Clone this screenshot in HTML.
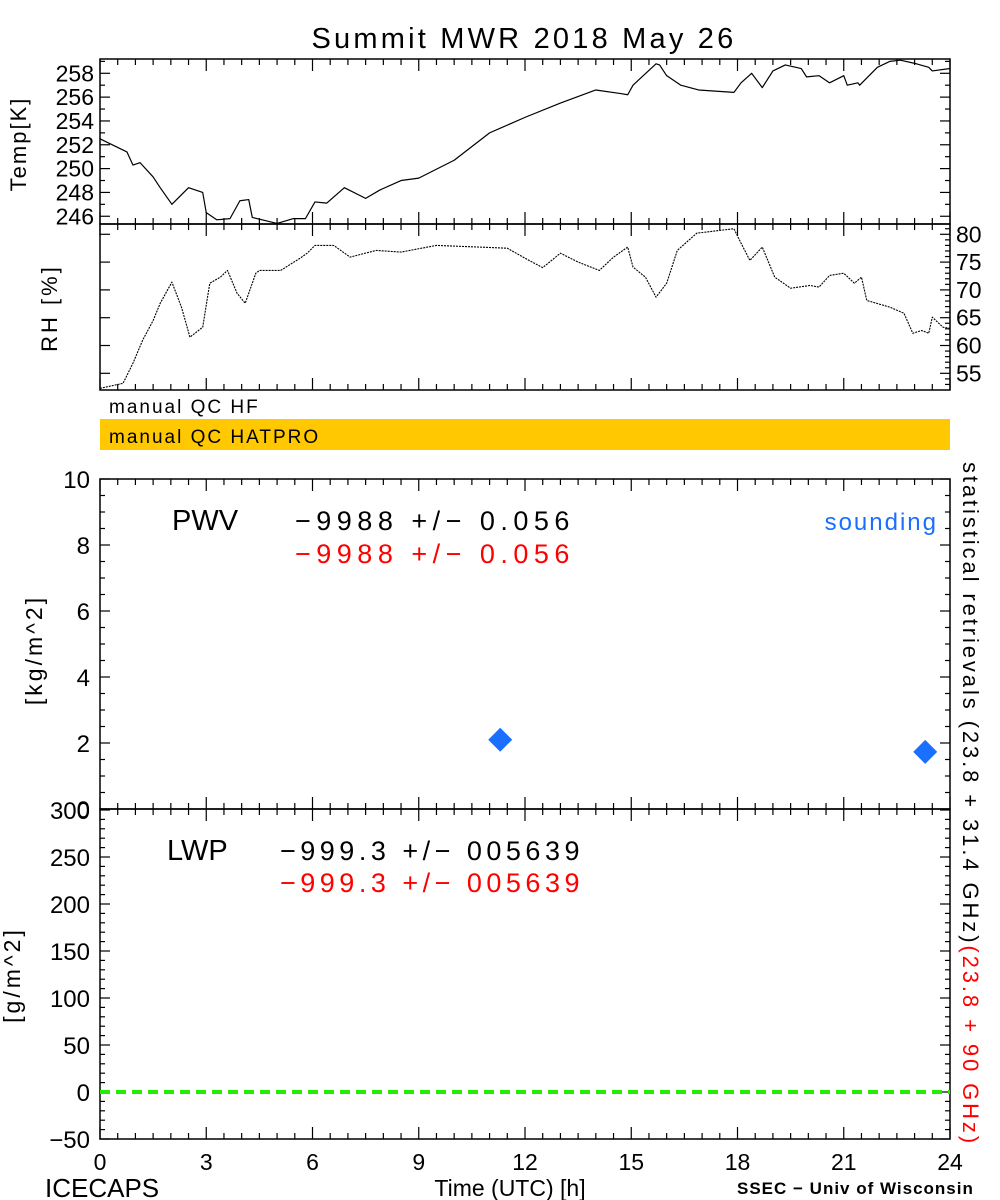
<!DOCTYPE html>
<html><head><meta charset="utf-8"><style>
body{margin:0;background:#fff}
svg{display:block;font-family:"Liberation Sans",sans-serif}
</style></head><body>
<svg id="c" width="1000" height="1200" viewBox="0 0 1000 1200">
<rect width="1000" height="1200" fill="#fff"/>
<text x="524" y="48" font-size="29" text-anchor="middle" letter-spacing="3.2">Summit MWR 2018 May 26</text>
<g id="g"></g>
</svg>
<script>
const tempHours=[0,0.76,0.93,1.13,1.5,1.7,2.03,2.5,2.9,3.0,3.3,3.67,3.95,4.2,4.3,5,5.45,5.8,6.07,6.4,6.9,7.5,7.9,8.5,9,10,11,12,13,14,14.7,14.9,15.05,15.7,15.8,16.0,16.4,16.9,17.9,18.1,18.4,18.7,19.0,19.35,19.8,19.95,20.3,20.6,21.0,21.1,21.4,21.45,21.95,22.3,22.6,23.05,23.4,23.5,24];
const tempValues=[252.5,251.4,250.3,250.5,249.3,248.4,247.0,248.4,248.0,246.3,245.7,245.8,247.3,247.4,245.9,245.4,245.8,245.8,247.2,247.1,248.4,247.5,248.2,249.0,249.2,250.7,253.0,254.3,255.5,256.6,256.3,256.2,257.0,258.8,258.7,257.8,257.0,256.6,256.4,257.2,258.0,256.8,258.2,258.7,258.4,257.7,257.8,257.2,257.8,257.0,257.2,257.0,258.5,259.0,259.1,258.8,258.5,258.2,258.4];
const rhHours=[0,0.65,0.93,1.2,1.5,1.7,2.03,2.3,2.54,2.9,3.1,3.4,3.6,3.87,4.1,4.4,4.5,5.1,5.65,5.85,6.07,6.6,7.06,7.8,8.5,9.5,11.5,12,12.5,13,13.5,14.1,14.5,14.9,15.05,15.4,15.7,16.0,16.3,16.85,17.5,17.9,18.1,18.35,18.7,19.05,19.5,20.05,20.3,20.6,21.0,21.3,21.5,21.65,22.3,22.7,22.95,23.2,23.4,23.5,23.8,24];
const rhValues=[52.3,53.2,56.8,60.9,64.5,67.6,71.4,66.9,61.5,63.3,71.2,72.3,73.5,69.4,67.6,73,73.5,73.5,75.7,76.6,78,78,75.9,77.1,76.8,78,77.5,75.7,74,76.6,75,73.5,75.9,77.7,74.1,72.3,68.7,71.2,77.1,80.2,80.7,81,78.4,75.3,77.7,72.3,70.3,70.8,70.5,72.6,73,71.2,72.3,68.1,66.9,65.8,62.2,62.7,62.2,65.1,63.3,63.1];
const soundingHours=[11.3,23.3];
const soundingPWV=[2.1,1.73];
const lwpZeroHours=[0,24];
const lwpZeroValues=[0,0];
const xTicks=[0,3,6,9,12,15,18,21,24];
const tempTicks=[246,248,250,252,254,256,258];
const rhTicks=[55,60,65,70,75,80];
const pwvTicks=[0,2,4,6,8,10];
const lwpTicks=[-50,0,50,100,150,200,250,300];

const NS='http://www.w3.org/2000/svg';
const G=document.getElementById('g');
const X0=100,X1=950;
const xs=h=>X0+(h/24)*(X1-X0);
function lin(d0,d1,p0,p1){return v=>p0+(v-d0)/(d1-d0)*(p1-p0);}
const yT=lin(245.35,259.2,224,59);
const yR=lin(52.0,81.85,390,224);
const yP=lin(0,10,809,479);
const yL=lin(-50,300,1139,810);
function el(tag,attrs,parent){const e=document.createElementNS(NS,tag);for(const k in attrs)e.setAttribute(k,attrs[k]);(parent||G).appendChild(e);return e;}
function txt(x,y,s,size,anchor,fill,ls){const t=el('text',{x:x,y:y,'font-size':size,'text-anchor':anchor||'start',fill:fill||'#000'});if(ls)t.setAttribute('letter-spacing',ls);t.textContent=s;return t;}

function panel(top,bot,name){
  const r=el('rect',{x:X0,y:top,width:X1-X0,height:bot-top,fill:'none',stroke:'#000','stroke-width':1.5});
  
  
  for(let h=0;h<=24.001;h+=0.5){
    const major=Math.abs(h/3-Math.round(h/3))<1e-6;
    const L=major?12:6;const x=xs(h);
    el('line',{x1:x,x2:x,y1:bot,y2:bot-L,stroke:'#000','stroke-width':1.2});
    el('line',{x1:x,x2:x,y1:top,y2:top+L,stroke:'#000','stroke-width':1.2});
  }
}
function yticks(scale,from,to,step,majorStep,side){
  for(let v=from;v<=to+1e-9;v+=step){
    const y=scale(v);const major=Math.abs(v/majorStep-Math.round(v/majorStep))<1e-6;const L=major?10:5;
    if(side!=='right')el('line',{x1:X0,x2:X0+L,y1:y,y2:y,stroke:'#000','stroke-width':1.2});
    if(side!=='left')el('line',{x1:X1,x2:X1-L,y1:y,y2:y,stroke:'#000','stroke-width':1.2});
  }
}
// Temp panel
panel(59,224,'temp-panel');
yticks(yT,246,259,1,2,'both');
tempTicks.forEach(v=>{const t=txt(94,yT(v)+8,String(v),23,'end');});
let t=txt(0,0,'Temp[K]',22,'middle',null,2);t.setAttribute('transform','translate(26,144) rotate(-90)');

let p=el('polyline',{points:tempHours.map((h,i)=>xs(h)+','+yT(tempValues[i])).join(' '),fill:'none',stroke:'#000','stroke-width':1.2,'stroke-linejoin':'round'});


// RH panel
panel(224,390,'rh-panel');
yticks(yR,53,81,1,5,'right');
yticks(yR,55,80,5,5,'left');
rhTicks.forEach(v=>{const t=txt(956,yR(v)+8,String(v),23,'start');});
t=txt(0,0,'RH [%]',22,'middle',null,3);t.setAttribute('transform','translate(57,308) rotate(-90)');

p=el('polyline',{points:rhHours.map((h,i)=>xs(h)+','+yR(rhValues[i])).join(' '),fill:'none',stroke:'#000','stroke-width':1.1,'stroke-dasharray':'2 1','stroke-linejoin':'round'});


// QC bars
t=txt(109,413,'manual QC HF',19,'start',null,2);
let r=el('rect',{x:100,y:419,width:850,height:31,fill:'#ffc800'});

t=txt(109,443,'manual QC HATPRO',19,'start',null,2);

// PWV panel
panel(479,809,'pwv-panel');
yticks(yP,0,10,0.5,2,'both');
pwvTicks.forEach(v=>{const t=txt(90,yP(v)+9,String(v),24,'end');});
t=txt(0,0,'[kg/m^2]',23,'middle',null,3);t.setAttribute('transform','translate(42,650) rotate(-90)');

t=txt(172,530,'PWV',29,'start');
t=txt(295,530,'\u22129988 +/\u2212 0.056',27,'start',null,5.5);
t=txt(295,563,'\u22129988 +/\u2212 0.056',27,'start','#ff0000',5.5);
t=txt(938,530,'sounding',24,'end','#1a6fff',2);
soundingHours.forEach((h,i)=>{const cx=xs(h),cy=yP(soundingPWV[i]);
  const d=el('polygon',{points:`${cx},${cy-12} ${cx+12},${cy} ${cx},${cy+12} ${cx-12},${cy}`,fill:'#1a6fff'});
  
  });

// LWP panel
panel(809,1139,'lwp-panel');
yticks(yL,-50,300,10,50,'both');
lwpTicks.forEach(v=>{const t=txt(90,yL(v)+9,(v<0?'\u2212':'')+Math.abs(v),24,'end');});
t=txt(0,0,'[g/m^2]',23,'middle',null,3);t.setAttribute('transform','translate(20,975) rotate(-90)');

t=txt(167,860,'LWP',29,'start');
t=txt(280,860,'\u2212999.3 +/\u2212 005639',27,'start',null,4.5);
t=txt(280,892,'\u2212999.3 +/\u2212 005639',27,'start','#ff0000',4.5);
p=el('line',{x1:xs(lwpZeroHours[0]),x2:xs(lwpZeroHours[1]),y1:yL(lwpZeroValues[0]),y2:yL(lwpZeroValues[1]),stroke:'#22ee00','stroke-width':4,'stroke-dasharray':'10 6'});


// x tick labels
xTicks.forEach(h=>{const t=txt(xs(h),1170,String(h),23,'middle');});
t=txt(510,1196,'Time (UTC) [h]',23,'middle');
t=txt(45,1197,'ICECAPS',26,'start');
t=txt(737,1194,'SSEC \u2212 Univ of Wisconsin',17,'start',null,1);t.setAttribute('font-weight','bold');

// right vertical text
const vt=el('text',{transform:'translate(963,462) rotate(90)','font-size':22,'letter-spacing':2.9});

const s1=el('tspan',{fill:'#000'},vt);s1.textContent='statistical retrievals (23.8 + 31.4 GHz)';
const s2=el('tspan',{fill:'#ff0000'},vt);s2.textContent='(23.8 + 90 GHz)';
</script>
</body></html>
